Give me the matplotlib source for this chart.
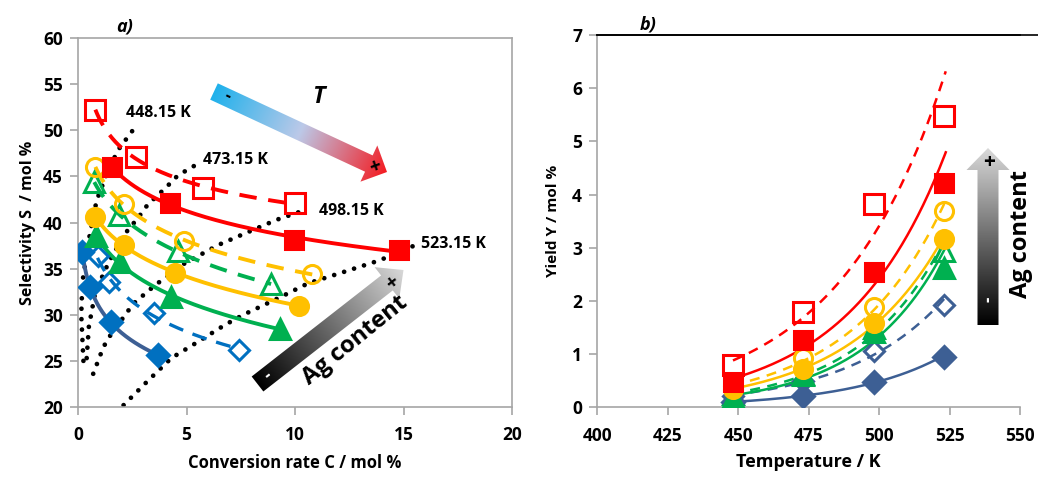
import numpy as np
import matplotlib
matplotlib.use("Agg")
import matplotlib.pyplot as plt
from matplotlib.patches import Polygon
from matplotlib.colors import LinearSegmentedColormap

plt.rcParams['font.family'] = ['Open Sans', 'DejaVu Sans']
plt.rcParams['font.weight'] = 'bold'

# ---------------- data: panel a) selectivity vs conversion ----------------
conv_red_filled = [1.55, 4.25, 9.95, 14.8]
sel_red_filled = [46.0, 42.1, 38.1, 37.0]
conv_red_open = [0.8, 2.65, 5.75, 10.0]
sel_red_open = [52.2, 47.1, 43.7, 42.1]
conv_yel_filled = [0.8, 2.1, 4.45, 10.2]
sel_yel_filled = [40.6, 37.6, 34.5, 31.0]
conv_yel_open = [0.8, 2.1, 4.9, 10.8]
sel_yel_open = [46.0, 42.0, 38.0, 34.4]
conv_grn_filled = [0.85, 1.95, 4.3, 9.3]
sel_grn_filled = [38.5, 35.7, 31.9, 28.5]
conv_grn_open = [0.75, 1.9, 4.6, 8.9]
sel_grn_open = [44.4, 40.8, 36.9, 33.3]
conv_blu_filled = [0.2, 0.55, 1.5, 3.7]
sel_blu_filled = [36.8, 33.0, 29.2, 25.6]
conv_blu_open = [0.9, 1.45, 3.5, 7.4]
sel_blu_open = [36.4, 33.5, 30.2, 26.2]

# isotherms (dotted)
iso_labels = ['448.15 K', '473.15 K', '498.15 K', '523.15 K']
iso448_c = [0.25, 0.15, 0.2, 0.55, 0.86, 1.4, 1.86, 2.78]
iso448_s = [25.0, 30.0, 33.5, 38.8, 42.4, 45.7, 47.9, 50.8]
iso473_c = [0.4, 0.5, 0.8, 1.4, 2.1, 2.8, 3.2, 4.1, 4.6, 5.4]
iso473_s = [25.3, 28.7, 32.5, 35.6, 38.6, 40.6, 41.9, 43.9, 45.1, 46.2]
iso498_c = [0.7, 1.17, 1.5, 2.55, 3.55, 4.93, 6.5, 8.07, 9.16, 10.46]
iso498_s = [23.6, 26.5, 27.8, 31.2, 33.2, 35.6, 37.6, 39.2, 40.3, 41.35]
iso523_c = [2.1, 3.16, 4.3, 5.55, 6.77, 7.62, 9.23, 10.6, 12.46, 13.9, 15.6]
iso523_s = [20.2, 22.7, 25.3, 27.1, 28.9, 30.0, 31.8, 33.4, 34.8, 35.9, 37.6]

# ---------------- data: panel b) yield vs temperature ----------------
temp_K = [448.15, 473.15, 498.15, 523.15]
yld_red_open = [0.80, 1.80, 3.82, 5.48]
yld_red_filled = [0.48, 1.27, 2.55, 4.22]
yld_yel_open = [0.40, 0.92, 1.88, 3.70]
yld_yel_filled = [0.35, 0.72, 1.59, 3.17]
yld_grn_open = [0.25, 0.62, 1.50, 2.93]
yld_grn_filled = [0.20, 0.60, 1.42, 2.62]
yld_blu_open = [0.22, 0.50, 1.05, 1.93]
yld_blu_filled = [0.10, 0.22, 0.48, 0.95]

RED, YEL, GRN, BLU, NAVY = '#FF0000', '#FFC000', '#00B050', '#0070C0', '#3D5F94'
SPINE = '#A6A6A6'

fig = plt.figure(figsize=(10.38, 4.8), dpi=100)
axL = fig.add_axes([78/1038, 1-407/480, (512-78)/1038, (407-38)/480])
axR = fig.add_axes([597.3/1038, 1-407.3/480, (1020-597.3)/1038, (407.3-35)/480])

DASH = (0, (4.5, 3))


def power_curve(x, y):
    lx = np.log(np.asarray(x)); yy = np.asarray(y)
    p = np.polyfit(lx, yy, 2)
    xs = np.linspace(min(x), max(x), 200)
    return xs, np.polyval(p, np.log(xs))


def exp_curve(x, y):
    xx = np.asarray(x); ly = np.log(np.asarray(y))
    p = np.polyfit(xx, ly, 1)
    xs = np.linspace(min(x), max(x) + 0.5, 200)
    return xs, np.exp(np.polyval(p, xs))

# ---------- panel a ----------
for c, s in [(iso448_c, iso448_s), (iso473_c, iso473_s), (iso498_c, iso498_s), (iso523_c, iso523_s)]:
    axL.plot(c, s, color='black', lw=3.4, linestyle=(0, (0.01, 2.2)),
             dash_capstyle='round', zorder=2)

series_a = [
    (conv_blu_open, sel_blu_open, BLU, BLU, 'D', 'none', 10, DASH, 2.4),
    (conv_grn_open, sel_grn_open, GRN, GRN, '^', 'none', 14, DASH, 2.8),
    (conv_yel_open, sel_yel_open, YEL, YEL, 'o', 'none', 13, DASH, 2.8),
    (conv_red_open, sel_red_open, RED, RED, 's', 'none', 14, DASH, 2.8),
    (conv_blu_filled, sel_blu_filled, NAVY, BLU, 'D', BLU, 11, '-', 2.8),
    (conv_grn_filled, sel_grn_filled, GRN, GRN, '^', GRN, 14, '-', 2.8),
    (conv_yel_filled, sel_yel_filled, YEL, YEL, 'o', YEL, 13, '-', 2.8),
    (conv_red_filled, sel_red_filled, RED, RED, 's', RED, 13, '-', 2.8),
]
for x, y, lc, mc, m, mf, ms, ls, lw in series_a:
    xs, ys = power_curve(x, y)
    axL.plot(xs, ys, color=lc, lw=lw, linestyle=ls, zorder=3)
    axL.plot(x, y, linestyle='none', marker=m, ms=ms, mec=mc,
             mfc=mf, mew=2.2, zorder=4)

iso_text_pos = [(2.2, 51.9), (5.75, 46.8), (11.1, 41.3), (15.8, 37.7)]
for lab, (tx, ty) in zip(iso_labels, iso_text_pos):
    axL.text(tx, ty, lab, fontsize=11.5, fontweight='bold', va='center', ha='left', zorder=5)

axL.set_xlim(0, 20)
axL.set_ylim(20, 60)
axL.set_xticks(np.arange(0, 21, 5))
axL.set_yticks(np.arange(20, 61, 5))
axL.set_xlabel('Conversion rate C / mol %', fontsize=12, fontweight='bold', labelpad=7)
axL.set_ylabel('Selectivity S  / mol %', fontsize=11.5, fontweight='bold', labelpad=5)
for sp in axL.spines.values():
    sp.set_color(SPINE); sp.set_linewidth(1.2)

# ---------- panel b ----------
series_b = [
    (yld_blu_open, NAVY, NAVY, 'D', 'none', 10, (0, (4, 3)), 1.8),
    (yld_grn_open, GRN, GRN, '^', 'none', 14, (0, (4, 3)), 1.8),
    (yld_yel_open, YEL, YEL, 'o', 'none', 13, (0, (4, 3)), 1.8),
    (yld_red_open, RED, RED, 's', 'none', 14, (0, (4, 3)), 1.8),
    (yld_blu_filled, NAVY, NAVY, 'D', NAVY, 11, '-', 1.8),
    (yld_grn_filled, GRN, GRN, '^', GRN, 14, '-', 1.8),
    (yld_yel_filled, YEL, YEL, 'o', YEL, 13, '-', 1.8),
    (yld_red_filled, RED, RED, 's', RED, 13, '-', 1.8),
]
for y, lc, mc, m, mf, ms, ls, lw in series_b:
    xs, ys = exp_curve(temp_K, y)
    axR.plot(xs, ys, color=lc, lw=lw, linestyle=ls, zorder=3)
    axR.plot(temp_K, y, linestyle='none', marker=m, ms=ms, mec=mc,
             mfc=mf, mew=2.2, zorder=4)

axR.set_xlim(400, 550)
axR.set_ylim(0, 7)
axR.set_xticks(np.arange(400, 551, 25))
axR.set_yticks(np.arange(0, 8, 1))
axR.set_xlabel('Temperature / K', fontsize=13, fontweight='bold', labelpad=6)
axR.set_ylabel('Yield Y / mol %', fontsize=11, fontweight='bold', labelpad=9)
axR.spines['right'].set_visible(False)
axR.spines['top'].set_color('black')
axR.spines['left'].set_color(SPINE)
axR.spines['bottom'].set_color(SPINE)
for sp in axR.spines.values():
    sp.set_linewidth(1.2)

for ax in (axL, axR):
    ax.tick_params(axis='both', direction='out', length=6, width=1.2, color=SPINE,
                   labelsize=12.5, pad=5)
    for lab in ax.get_xticklabels() + ax.get_yticklabels():
        lab.set_fontweight('bold')
    ax.tick_params(axis='x', pad=8)
axR.tick_params(right=False, top=False)

# ---------- overlay for annotations (pixel coords) ----------
ov = fig.add_axes([0, 0, 1, 1], zorder=10)
ov.set_xlim(0, 1038)
ov.set_ylim(480, 0)
ov.axis('off')


def grad_arrow(ax, tail, tip, body_w, head_w, head_l, colors):
    tail = np.array(tail, float); tip = np.array(tip, float)
    d = tip - tail; L = np.hypot(*d); u = d / L; n = np.array([-u[1], u[0]])
    base = tip - u * head_l
    pts = [tail + n * body_w / 2, base + n * body_w / 2, base + n * head_w / 2, tip,
           base - n * head_w / 2, base - n * body_w / 2, tail - n * body_w / 2]
    poly = Polygon(pts, closed=True, facecolor='none', edgecolor='none')
    ax.add_patch(poly)
    xs = [p[0] for p in pts]; ys = [p[1] for p in pts]
    x0, x1, y0, y1 = min(xs) - 2, max(xs) + 2, min(ys) - 2, max(ys) + 2
    gx = np.linspace(x0, x1, 300); gy = np.linspace(y0, y1, 300)
    X, Y = np.meshgrid(gx, gy)
    t = np.clip(((X - tail[0]) * u[0] + (Y - tail[1]) * u[1]) / L, 0, 1)
    cmap = LinearSegmentedColormap.from_list('g', colors)
    im = ax.imshow(t, extent=(x0, x1, y0, y1), origin='lower', cmap=cmap,
                   vmin=0, vmax=1, aspect='auto', interpolation='bilinear')
    im.set_clip_path(poly)

grad_arrow(ov, (214, 91.5), (387, 172), 18, 40, 20, ['#1FB1EC', '#BCC9E8', '#F41C22'])
grad_arrow(ov, (257.5, 384), (403.5, 270), 19, 40, 21, ['#000000', '#D9D9D9'])
grad_arrow(ov, (988, 325), (988, 148), 21, 43, 22, ['#000000', '#D9D9D9'])
# top border of panel b continues to the figure edge
ov.plot([597.3, 1038], [35, 35], color='black', lw=1.2)
ov.set_xlim(0, 1038)
ov.set_ylim(480, 0)

ov.text(227, 96, '-', fontsize=12, fontweight='bold', ha='center', va='center', rotation=-25)
ov.text(375, 167, '+', fontsize=14, fontweight='bold', ha='center', va='center', rotation=20)
ov.text(318, 97, 'T', fontsize=17, fontweight='bold', style='italic', ha='center', va='center')

ov.text(268, 376, '-', fontsize=12, fontweight='bold', color='white', ha='center', va='center', rotation=38)
ov.text(393, 283, '+', fontsize=14, fontweight='bold', ha='center', va='center', rotation=38)
ov.text(355, 340, 'Ag content', fontsize=17, fontweight='bold', ha='center', va='center', rotation=39)

ov.text(989, 163, '+', fontsize=15, fontweight='bold', ha='center', va='center')
ov.text(988, 299, '-', fontsize=12, fontweight='bold', color='white', ha='center', va='center', rotation=90)
ov.text(1021, 234, 'Ag content', fontsize=17, fontweight='bold', ha='center', va='center', rotation=90)

ov.text(125, 26, 'a)', fontsize=13, fontweight='bold', style='italic', ha='center', va='center')
ov.text(648, 25, 'b)', fontsize=13, fontweight='bold', style='italic', ha='center', va='center')

fig.savefig('out.png', dpi=100)
